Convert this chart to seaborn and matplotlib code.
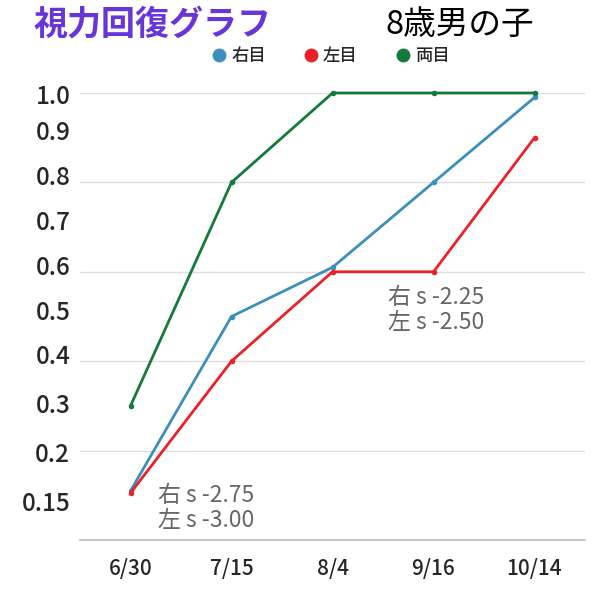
import pandas as pd
import matplotlib.pyplot as plt
import seaborn as sns
from matplotlib.lines import Line2D

# data
dates = ["6/30", "7/15", "8/4", "9/16", "10/14"]
right_eye = [0.11, 0.50, 0.61, 0.80, 0.99]
left_eye = [0.105, 0.40, 0.60, 0.60, 0.90]
both_eyes = [0.30, 0.80, 1.00, 1.00, 1.00]
series_names = ["右目", "左目", "両目"]
y_labels = ["1.0", "0.9", "0.8", "0.7", "0.6", "0.5", "0.4", "0.3", "0.2", "0.15"]
note_early = "右 s -2.75\n左 s -3.00"
note_late = "右 s -2.25\n左 s -2.50"

colors = ["#3b8fba", "#e8222a", "#137a3c"]

df = pd.DataFrame({
    "date": dates * 3,
    "value": right_eye + left_eye + both_eyes,
    "eye": [series_names[0]] * 5 + [series_names[1]] * 5 + [series_names[2]] * 5,
})

sns.set_style("white")
plt.rcParams['font.family'] = ['Noto Sans CJK JP', 'DejaVu Sans']

fig = plt.figure(figsize=(6, 6), dpi=100)
ax = fig.add_axes([80 / 600, 60 / 600, 505 / 600, 447 / 600])

sns.lineplot(data=df, x="date", y="value", hue="eye", palette=colors,
             marker="o", markersize=4, markeredgewidth=0, linewidth=2,
             sort=False, legend=False, ax=ax, clip_on=False)

ax.set_xlim(-0.5, len(dates) - 0.5)
ax.set_ylim(0, 1.0)

# gridlines every 0.2, labels drawn where the reference has them
ax.set_yticks([0, 0.2, 0.4, 0.6, 0.8, 1.0])
ax.set_yticklabels([])
label_pos = [0.998, 0.917, 0.817, 0.717, 0.615, 0.514, 0.416, 0.306, 0.196, 0.088]
ax.set_yticks(label_pos, minor=True)
ax.set_yticklabels(y_labels, minor=True, fontsize=17.5, fontweight="medium")
ax.tick_params(axis="y", which="both", length=0, pad=7)
ax.grid(axis="y", which="major", color="#dddddd", linewidth=1)
ax.grid(axis="x", visible=False)
ax.set_axisbelow(True)

ax.tick_params(axis="x", length=0, pad=13, labelsize=15)
for lbl in ax.get_xticklabels():
    lbl.set_fontweight("medium")
ax.set_xlabel("")
ax.set_ylabel("")

for s in ["top", "left", "right"]:
    ax.spines[s].set_visible(False)
ax.spines["bottom"].set_color("#c0c0c0")
ax.spines["bottom"].set_linewidth(1.2)

# notes
ax.text(0.27, 0.072, note_early, fontsize=16.5, color="#666666", ha="left", va="center",
        linespacing=1.1)
ax.text(2.55, 0.515, note_late, fontsize=16.5, color="#666666", ha="left", va="center",
        linespacing=1.1)

# titles
fig.text(34 / 600, 1 - 24 / 600, "視力回復グラフ", fontsize=24.5, fontweight="bold",
         color="#6836d8", ha="left", va="center")
fig.text(385 / 600, 1 - 25 / 600, "8歳男の子", fontsize=23.5, color="black",
         ha="left", va="center")

handles = [Line2D([], [], linestyle="none", marker="o", markersize=10,
                  markerfacecolor=c, markeredgewidth=0) for c in colors]
fig.legend(handles, series_names, loc="center", bbox_to_anchor=(330 / 600, 1 - 56 / 600),
           ncol=3, frameon=False, fontsize=12.5, handletextpad=0.2, columnspacing=2.1,
           handlelength=1.0, prop={"weight": "medium", "size": 12.5})

fig.savefig("out.png", dpi=100)
